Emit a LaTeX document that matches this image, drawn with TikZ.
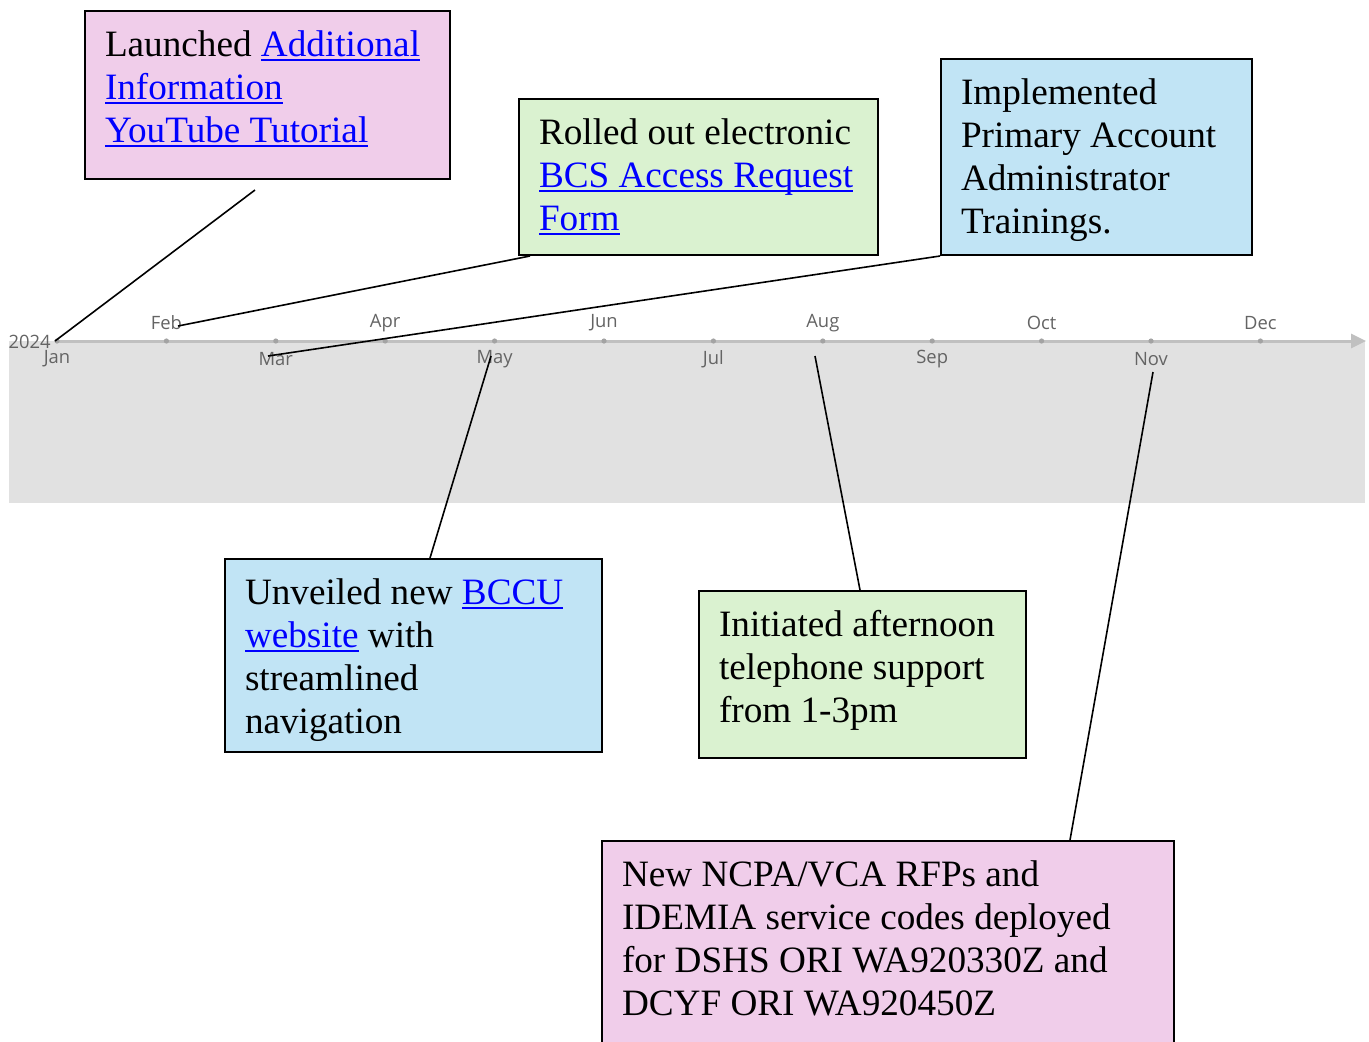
\documentclass[tikz,border=0pt]{standalone}
\usepackage{fontspec}
\setmainfont{Liberation Serif}
\newfontfamily\axisfont{Open Sans}
\usepackage{tikz}
\usetikzlibrary{arrows.meta,calc}
\definecolor{box_pink}{RGB}{240,205,234}
\definecolor{box_green}{RGB}{218,242,208}
\definecolor{box_blue}{RGB}{193,228,245}
\definecolor{band_gray}{RGB}{225,225,225}
\definecolor{axis_gray}{RGB}{192,192,192}
\definecolor{label_gray}{RGB}{100,100,100}
\definecolor{link_blue}{RGB}{0,0,255}
\newsavebox{\lnkbox}
\newcommand{\lnk}[1]{\leavevmode\sbox{\lnkbox}{\color{link_blue}#1}{\color{link_blue}\rlap{\rule[-2.4pt]{\wd\lnkbox}{1pt}}}\usebox{\lnkbox}}
\newcommand{\evtxt}[3]{\parbox[t][#2][t]{#1}{\raggedright\strut #3}}

\begin{document}
\begin{tikzpicture}[x=0.5pt,y=-0.5pt]
    \tikzstyle{event}=[draw=black, line width=1pt, anchor=north west, inner xsep=10pt, inner ysep=7.5pt, font=\fontsize{18.6}{21.5}\selectfont]
    \tikzstyle{month}=[text=label_gray, font=\axisfont\fontsize{9.2}{10}\selectfont, inner sep=0pt]
    \tikzstyle{leader}=[black, line width=0.8pt]
    \clip (0,0) rectangle (1369,1041);

    % timeline band and axis
    \fill[band_gray] (9,341) rectangle (1365,503);
    \draw[axis_gray, line width=1.5pt, -{Triangle[length=7.5pt,width=7pt]}] (57,341) -- (1366,341);
    \node[month, anchor=east] (yr) at (51,342) {2024};
    \foreach \m [count=\i from 0] in {Jan,Feb,Mar,Apr,May,Jun,Jul,Aug,Sep,Oct,Nov,Dec} {
      \pgfmathsetmacro{\mx}{57+109.4*\i}
      \fill[axis_gray!85!black] (\mx,341) circle (1.3pt);
      \ifodd\i \node[month] (m\i) at (\mx,323) {\m}; \else \node[month] (m\i) at (\mx,359) {\m}; \fi
    }

    \coordinate (pjan) at (55,341);
    \coordinate (pfeb) at (178,326);
    \coordinate (pmar) at (268,356);
    \coordinate (pmay) at (491,356);
    \coordinate (paug) at (815,356);
    \coordinate (pnov) at (1153,372);

    % events
    \node[event, fill=box_pink] (launch) at (84,10) {\evtxt{162.5pt}{69pt}{Launched \lnk{Additional}\\ \lnk{Information}\\ \lnk{YouTube Tutorial}}};
    \node[event, fill=box_green] (form) at (518,98) {\evtxt{159.5pt}{63pt}{Rolled out electronic\\ \lnk{BCS Access Request}\\ \lnk{Form}}};
    \node[event, fill=box_blue] (paa) at (940,58) {\evtxt{135.5pt}{83pt}{Implemented\\ Primary Account\\ Administrator\\ Trainings.}};
    \node[event, fill=box_blue] (site) at (224,558) {\evtxt{168.5pt}{81.5pt}{Unveiled new \lnk{BCCU}\\ \lnk{website} with\\ streamlined\\ navigation}};
    \node[event, fill=box_green] (phone) at (698,590) {\evtxt{143.5pt}{68.5pt}{Initiated afternoon\\ telephone support\\ from 1-3pm}};
    \node[event, fill=box_pink] (ori) at (601,840) {\evtxt{266pt}{100pt}{New NCPA/VCA RFPs and\\ IDEMIA service codes deployed\\ for DSHS ORI WA920330Z and\\ DCYF ORI WA920450Z}};

    \draw[leader] ($(launch.south west)+(171,10)$) -- (pjan);
    \draw[leader] ($(form.south west)+(12,0)$) -- (pfeb);
    \draw[leader] (paa.south west) -- (pmar);
    \draw[leader] ($(site.north west)+(206,0)$) -- (pmay);
    \draw[leader] ($(phone.north west)+(162,0)$) -- (paug);
    \draw[leader] ($(ori.north west)+(469,0)$) -- (pnov);
\end{tikzpicture}
\end{document}
